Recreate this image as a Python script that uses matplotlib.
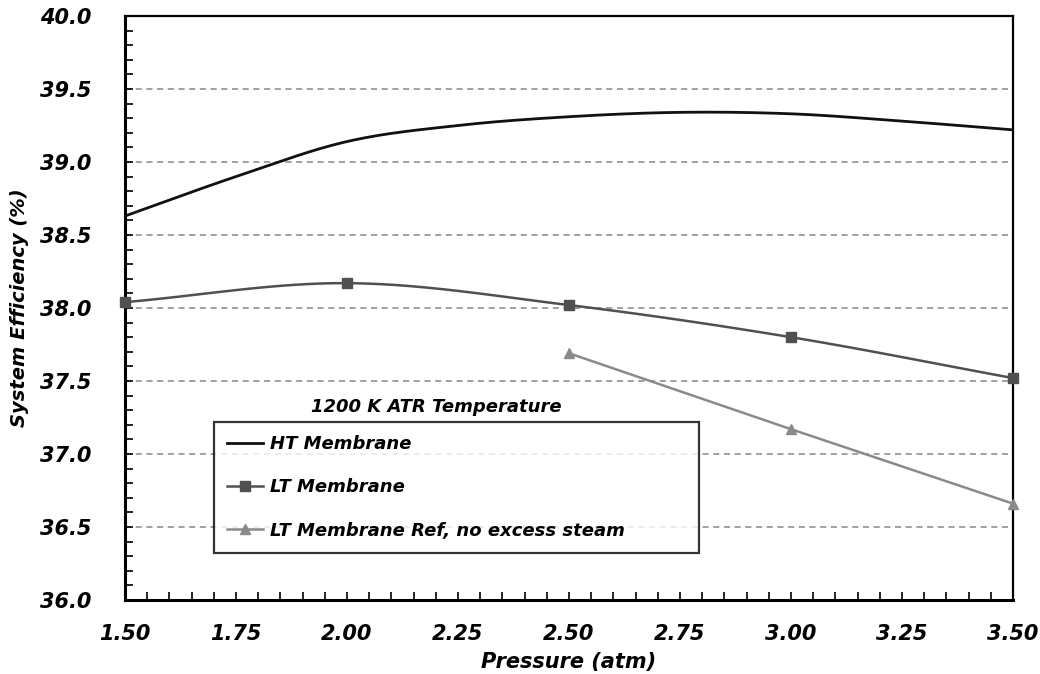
import numpy as np
import matplotlib.pyplot as plt
from matplotlib.ticker import MultipleLocator, FormatStrFormatter
from matplotlib.lines import Line2D

# data
ht_p = [1.50, 1.75, 2.00, 2.25, 2.50, 2.75, 3.00, 3.25, 3.50]
ht_eff = [38.63, 38.90, 39.14, 39.25, 39.31, 39.34, 39.33, 39.28, 39.22]

lt_p = [1.5, 2.0, 2.5, 3.0, 3.5]
lt_eff = [38.04, 38.17, 38.02, 37.80, 37.52]

ref_p = [2.5, 3.0, 3.5]
ref_eff = [37.69, 37.17, 36.66]

labels = ['HT Membrane', 'LT Membrane', 'LT Membrane Ref, no excess steam']
legend_title = '1200 K ATR Temperature'


def smooth(x, y, n=30):
    # catmull-rom curve through the points, like a spreadsheet "smoothed line"
    x = np.asarray(x, float)
    y = np.asarray(y, float)
    px = np.concatenate([[2 * x[0] - x[1]], x, [2 * x[-1] - x[-2]]])
    py = np.concatenate([[2 * y[0] - y[1]], y, [2 * y[-1] - y[-2]]])
    xs, ys = [], []
    t = np.linspace(0, 1, n)
    for i in range(1, len(px) - 2):
        for arr, out in ((px, xs), (py, ys)):
            p0, p1, p2, p3 = arr[i - 1], arr[i], arr[i + 1], arr[i + 2]
            out.extend(0.5 * (2 * p1 + (-p0 + p2) * t
                              + (2 * p0 - 5 * p1 + 4 * p2 - p3) * t ** 2
                              + (-p0 + 3 * p1 - 3 * p2 + p3) * t ** 3))
    return np.array(xs), np.array(ys)


plt.rcParams['font.family'] = ['DejaVu Sans']
fig = plt.figure(figsize=(10.4, 6.74), dpi=100)
ax = fig.add_axes([0.1202, 0.1098, 0.8538, 0.8665])

c_ht, c_lt, c_ref = '#111111', '#505050', '#8a8a8a'

x, y = smooth(ht_p, ht_eff)
ax.plot(x, y, color=c_ht, lw=2.0, zorder=4)
x, y = smooth(lt_p, lt_eff)
ax.plot(x, y, color=c_lt, lw=1.8, zorder=4)
ax.plot(lt_p, lt_eff, ls='none', marker='s', ms=7, color=c_lt, zorder=5, clip_on=False)
ax.plot(ref_p, ref_eff, color=c_ref, lw=1.8, marker='^', ms=7, zorder=5, clip_on=False)

ax.set_xlim(1.5, 3.5)
ax.set_ylim(36.0, 40.0)
ax.xaxis.set_major_locator(MultipleLocator(0.25))
ax.xaxis.set_minor_locator(MultipleLocator(0.05))
ax.yaxis.set_major_locator(MultipleLocator(0.5))
ax.yaxis.set_minor_locator(MultipleLocator(0.1))
ax.xaxis.set_major_formatter(FormatStrFormatter('%.2f'))
ax.yaxis.set_major_formatter(FormatStrFormatter('%.1f'))

for yv in np.arange(36.5, 39.6, 0.5):
    ax.axhline(yv, color='#888888', lw=1.1, ls=(0, (4, 3)), zorder=1)

ax.tick_params(axis='both', which='both', direction='in', length=6, width=1.2, color='black')
ax.tick_params(axis='x', which='major', pad=17)
ax.tick_params(axis='y', which='major', pad=24)
ax.tick_params(top=False, right=False)
for lab in ax.get_xticklabels() + ax.get_yticklabels():
    lab.set_fontsize(15)
    lab.set_fontweight('bold')
    lab.set_fontstyle('italic')

for side in ['left', 'bottom']:
    ax.spines[side].set_linewidth(2.2)
for side in ['top', 'right']:
    ax.spines[side].set_linewidth(1.6)

ax.set_xlabel('Pressure (atm)', fontsize=15, fontweight='bold', fontstyle='italic', labelpad=6)
ax.set_ylabel('System Efficiency (%)', fontsize=14, fontweight='bold', fontstyle='italic', labelpad=8)

handles = [
    Line2D([], [], color=c_ht, lw=2.0),
    Line2D([], [], color=c_lt, lw=1.8, marker='s', ms=7),
    Line2D([], [], color=c_ref, lw=1.8, marker='^', ms=7),
]
leg = ax.legend(handles, labels, loc='lower left', bbox_to_anchor=(0.100, 0.080, 0.546, 0.225),
                mode='expand', frameon=True, fancybox=False, handlelength=2.0, handletextpad=0.35,
                labelspacing=1.4, borderpad=0.75, borderaxespad=0,
                prop={'size': 13, 'weight': 'bold', 'style': 'italic'})
leg.get_frame().set_edgecolor('black')
leg.get_frame().set_linewidth(1.6)
leg.set_zorder(6)

ax.text(0.351, 0.330, legend_title, transform=ax.transAxes, ha='center', va='center',
        fontsize=13, fontweight='bold', fontstyle='italic')

fig.savefig('out.png', dpi=100)
